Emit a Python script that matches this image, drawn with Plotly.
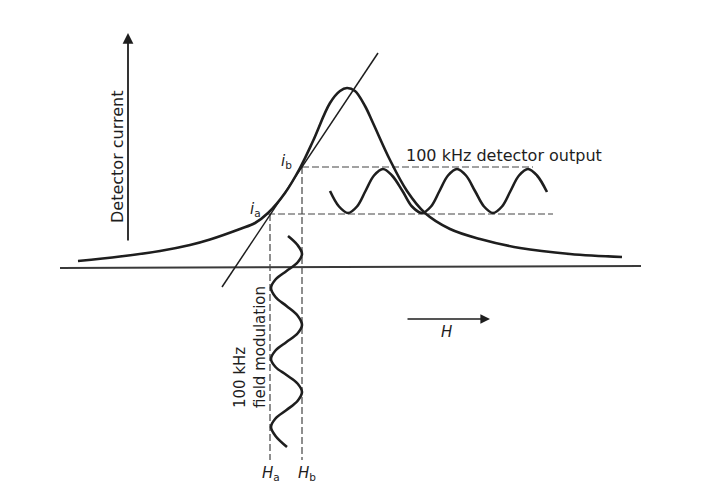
import plotly.graph_objects as go

# ---- data (diagram coordinates: x = field H, y = drawing depth, top = 0) ----
# resonance (absorption) curve
curve_x = [78, 120, 160, 190, 210, 240, 255, 268, 285, 300, 313, 330, 340, 347,
           355, 365, 373, 390, 407, 425, 450, 480, 520, 570, 622]
curve_y = [261, 256.5, 251, 245, 239.5, 229, 223, 213, 193, 168, 141, 103, 91, 88,
           91, 106, 123, 160, 191, 213, 229, 239, 248, 254, 257]

# baseline (H axis)
base_x = [60, 641]
base_y = [268, 266]

# tangent (slope) line through i_a and i_b
tan_x = [222, 378]
tan_y = [287, 53]

# 100 kHz field modulation (vertical wave between Ha and Hb)
fm_x = [288, 297.5, 302, 297.5, 286.5, 275.5, 271, 275.5, 286.5, 297.5, 302, 297.5,
        286.5, 275.5, 271, 275.5, 286.5, 297.5, 302, 297.5, 286.5, 275.5, 271, 275.5, 287]
fm_y = [236, 245, 254, 262.5, 271, 279.5, 288, 297, 306, 315.5, 325, 333.5,
        342, 350.5, 359, 367, 375, 383.5, 392, 401, 410, 418.5, 427, 436, 447]

# 100 kHz detector output (horizontal wave between ia and ib)
do_x = [330, 339, 348, 357, 365.5, 374, 383, 392, 402.5, 412, 422, 431, 439.5,
        448, 457, 466, 475, 484, 493, 502, 510.5, 519, 528, 537, 547]
do_y = [191, 206.5, 213, 206.5, 191, 175.5, 169, 175.5, 191, 206.5, 213, 206.5, 191,
        175.5, 169, 175.5, 191, 206.5, 213, 206.5, 191, 175.5, 169, 175.5, 192]

# reference levels
Ha, Hb = 270, 302
ia, ib = 214, 167
dash_end_ia, dash_end_ib = 553, 533
dash_bottom = 460

INK = "#1e1e1e"
FONT = "DejaVu Sans, Liberation Sans, sans-serif"

fig = go.Figure()

def line(x, y, width, dash=None, shape="linear", color=INK):
    fig.add_trace(go.Scatter(
        x=x, y=y, mode="lines", hoverinfo="skip", showlegend=False,
        line=dict(color=color, width=width, dash=dash, shape=shape, smoothing=1.0)))

# baseline
line(base_x, base_y, 2.0, color="#3a3a3a")
# dashed guides
line([268, dash_end_ia], [ia, ia], 1.2, dash="7px,3px", color="#444")
line([Hb, dash_end_ib], [ib, ib], 1.2, dash="7px,3px", color="#444")
line([Ha, Ha], [ia, dash_bottom], 1.2, dash="7px,3px", color="#444")
line([Hb, Hb], [ib, dash_bottom], 1.2, dash="7px,3px", color="#444")
# tangent line
line(tan_x, tan_y, 1.5)
# resonance curve
line(curve_x, curve_y, 2.6, shape="spline")
# waves
line(fm_x, fm_y, 2.6, shape="spline")
line(do_x, do_y, 2.6, shape="spline")

annotations = [
    # vertical axis arrow
    dict(x=128, y=33, ax=128, ay=242, xref="x", yref="y", axref="x", ayref="y",
         text="", showarrow=True, arrowhead=2, arrowsize=1.2, arrowwidth=1.8,
         arrowcolor=INK),
    # H arrow
    dict(x=490, y=319, ax=406, ay=319, xref="x", yref="y", axref="x", ayref="y",
         text="", showarrow=True, arrowhead=2, arrowsize=1.2, arrowwidth=1.6,
         arrowcolor=INK),
    dict(x=117, y=157, text="Detector current", textangle=-90, showarrow=False,
         font=dict(size=16, family=FONT, color=INK)),
    dict(x=504, y=155, text="100 kHz detector output", showarrow=False,
         font=dict(size=16, family=FONT, color=INK)),
    dict(x=250, y=347, text="100 kHz<br>field modulation", textangle=-90,
         align="left", showarrow=False,
         font=dict(size=15, family=FONT, color=INK)),
    dict(x=446, y=332, text="<i>H</i>", showarrow=False,
         font=dict(size=15, family=FONT, color=INK)),
    dict(x=271, y=473, text="<i>H</i><sub>a</sub>", showarrow=False,
         font=dict(size=15, family=FONT, color=INK)),
    dict(x=307, y=473, text="<i>H</i><sub>b</sub>", showarrow=False,
         font=dict(size=15, family=FONT, color=INK)),
    dict(x=255, y=209, text="<i>i</i><sub>a</sub>", showarrow=False,
         font=dict(size=15, family=FONT, color=INK)),
    dict(x=286, y=161, text="<i>i</i><sub>b</sub>", showarrow=False,
         font=dict(size=15, family=FONT, color=INK)),
]

# the page body has an 8 px margin, so the figure is 8 px smaller and its
# ranges start at 8 to keep drawing coordinates equal to window pixels
fig.update_layout(
    width=716, height=482,
    margin=dict(l=0, r=0, t=0, b=0),
    paper_bgcolor="white", plot_bgcolor="white",
    xaxis=dict(range=[8, 724], visible=False, fixedrange=True),
    yaxis=dict(range=[490, 8], visible=False, fixedrange=True),
    annotations=annotations,
)

fig.write_html("out.html")
